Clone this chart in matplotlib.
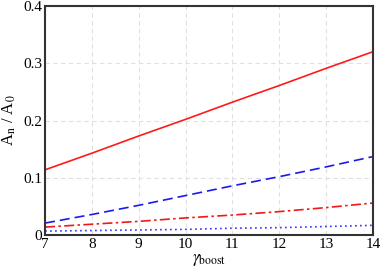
import matplotlib
matplotlib.use("Agg")
import matplotlib.pyplot as plt

plt.rcParams['font.family'] = ['Liberation Serif', 'DejaVu Serif']
plt.rcParams['mathtext.fontset'] = 'stix'

gamma = [7, 8, 9, 10, 11, 12, 13, 14]
redSolid = [0.114, 0.143, 0.173, 0.202, 0.232, 0.261, 0.291, 0.320]
blueDashed = [0.021, 0.036, 0.052, 0.069, 0.086, 0.102, 0.119, 0.137]
redDashDot = [0.014, 0.019, 0.024, 0.030, 0.035, 0.041, 0.048, 0.056]
blueDotted = [0.007, 0.008, 0.009, 0.010, 0.012, 0.013, 0.015, 0.017]

fig = plt.figure(figsize=(3.82, 2.69), dpi=100)
ax = fig.add_axes([0.118, 0.126, 0.858, 0.852])

ax.plot(gamma, redSolid, color='#ff1a1a', lw=1.2, ls='-')
ax.plot(gamma, blueDashed, color='#1a1aee', lw=1.2, ls=(0, (6, 3)))
ax.plot(gamma, redDashDot, color='#ee1a1a', lw=1.2, ls=(0, (6, 2, 1.5, 2)))
ax.plot(gamma, blueDotted, color='#3333ff', lw=1.2, ls=(0, (1, 2)))

ax.set_xlim(7, 14)
ax.set_ylim(0, 0.4)
ax.set_xticks(range(7, 15))
ax.set_yticks([0, 0.1, 0.2, 0.3, 0.4])
ax.set_yticklabels(['0', '0.1', '0.2', '0.3', '0.4'])
ax.tick_params(length=0, labelsize=11, pad=2)
ax.grid(True, color='#e0e0e0', ls=(0, (4, 3)), lw=0.8)
ax.set_axisbelow(True)
for s in ax.spines.values():
    s.set_color('#333333')
    s.set_linewidth(1.5)

ax.set_xlabel(r'$\gamma_{\rm boost}$', fontsize=12, labelpad=1)
ax.set_ylabel(r'A$_{\rm n}$ / A$_{\rm 0}$', fontsize=12, labelpad=4)

fig.savefig('out.png', dpi=100)
